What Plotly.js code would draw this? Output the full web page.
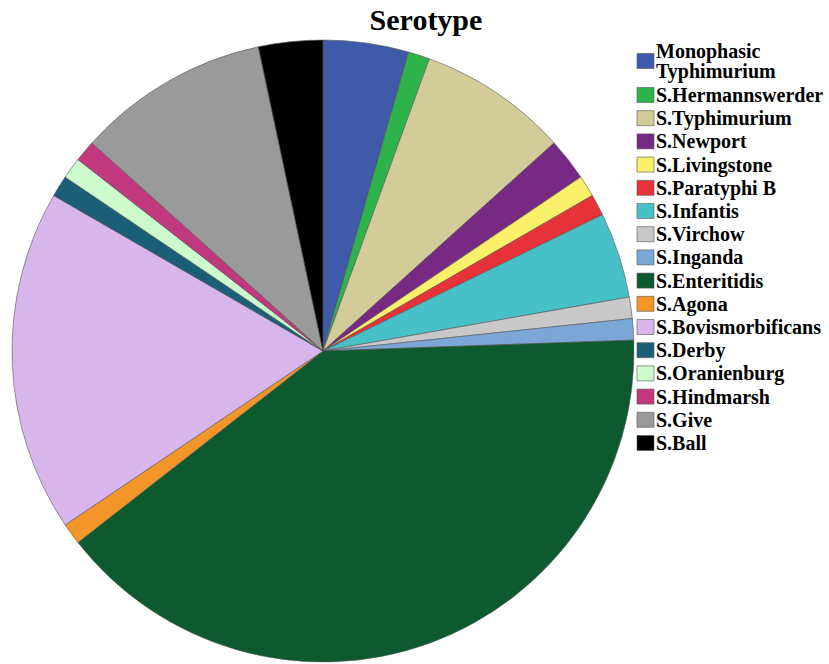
<!DOCTYPE html>
<html>
<head>
<meta charset="utf-8">
<script src="https://cdn.plot.ly/plotly-3.0.1.min.js"></script>
<style>html,body{margin:0;padding:0;background:#fff;}#chart{width:829px;height:664px;}</style>
</head>
<body>
<div id="chart"></div>
<script>
const serotypes = [
  "Monophasic<br>Typhimurium", "S.Hermannswerder", "S.Typhimurium", "S.Newport",
  "S.Livingstone", "S.Paratyphi B", "S.Infantis", "S.Virchow", "S.Inganda",
  "S.Enteritidis", "S.Agona", "S.Bovismorbificans", "S.Derby", "S.Oranienburg",
  "S.Hindmarsh", "S.Give", "S.Ball"
];
const counts = [4, 1, 7, 2, 1, 1, 4, 1, 1, 36, 1, 16, 1, 1, 1, 9, 3];
const sliceColors = [
  "#3F5AA8", "#2DB34A", "#D4CC98", "#772A84", "#FAF06A", "#E8323A", "#47C0C8",
  "#C8C8C8", "#7BA6D6", "#0D5A2E", "#F2962A", "#D9B5EE", "#1A5E78", "#CCFACC",
  "#C2387E", "#9A9A9A", "#000000"
];

const W = 829, H = 664;
const cx = 323, cy = 351, r = 311;

const trace = {
  type: "pie",
  labels: serotypes,
  values: counts,
  sort: false,
  direction: "clockwise",
  rotation: 0,
  textinfo: "none",
  hoverinfo: "label+value+percent",
  marker: {colors: sliceColors, line: {color: "#555555", width: 0.6}},
  domain: {x: [(cx - r) / W, (cx + r) / W], y: [(H - cy - r) / H, (H - cy + r) / H]}
};

const layout = {
  width: W, height: H,
  margin: {l: 0, r: 0, t: 0, b: 0},
  paper_bgcolor: "#ffffff",
  showlegend: true,
  title: {
    text: "<b>Serotype</b>",
    x: 426 / W, xanchor: "center",
    yref: "container",
    y: 1 - 19 / H, yanchor: "middle",
    font: {family: "Liberation Serif, Times New Roman, serif", size: 30, color: "#000"}
  },
  legend: {
    x: 620 / W, xanchor: "left",
    y: 1 - 38 / H, yanchor: "top",
    font: {family: "Liberation Serif, Times New Roman, serif", size: 17, color: "#000", weight: "bold"},
    itemwidth: 30,
    bgcolor: "rgba(0,0,0,0)",
    traceorder: "normal"
  }
};

// legend styling (geometry of the key, in pixels)
const keyBoxX = 645.5, keyBoxHalfW = 8.5, keyBoxHalfH = 7.5;
const keyTextX = 656, keyFontPx = 20;
const keyFirstCenter = 61, keySecondCenter = 95, keyStep = 23.2;
const keyBaselineShift = 7, keyLineGap = 20;

Plotly.newPlot("chart", [trace], layout, {displayModeBar: false, staticPlot: true}).then(function (gd) {
  gd.querySelectorAll(".legend .scrollbox, .legend [clip-path]").forEach(function (el) {
    el.removeAttribute("clip-path");
  });
  const items = gd.querySelectorAll(".legend .traces");
  items.forEach(function (g, i) {
    const c = i === 0 ? keyFirstCenter : keySecondCenter + (i - 1) * keyStep;
    const pm = g.parentNode.getScreenCTM();
    g.setAttribute("transform", "translate(" + (-pm.e) + "," + (c - pm.f) + ")");
    const path = g.querySelector("path.legendpie") || g.querySelector(".legendpoints path");
    if (path) {
      const m = path.parentNode.getScreenCTM();
      path.setAttribute("d", "M" + keyBoxHalfW + "," + keyBoxHalfH + "H" + (-keyBoxHalfW) + "V" + (-keyBoxHalfH) + "H" + keyBoxHalfW + "Z");
      path.setAttribute("transform", "translate(" + (keyBoxX - m.e) + "," + (c - m.f) + ")");
    }
    const txt = g.querySelector("text.legendtext");
    if (txt) {
      const tm = txt.parentNode.getScreenCTM();
      txt.style.fontSize = keyFontPx + "px";
      const lx = keyTextX - tm.e;
      const lines = txt.querySelectorAll("tspan.line");
      if (lines.length > 1) {
        const first = c - 3 - tm.f;
        txt.setAttribute("x", lx);
        txt.setAttribute("y", first);
        lines.forEach(function (ts, k) {
          ts.removeAttribute("dy");
          ts.setAttribute("x", lx);
          ts.setAttribute("y", first + k * keyLineGap);
        });
      } else {
        txt.setAttribute("x", lx);
        txt.setAttribute("y", c + keyBaselineShift - tm.f);
      }
    }
  });
});
</script>
</body>
</html>
